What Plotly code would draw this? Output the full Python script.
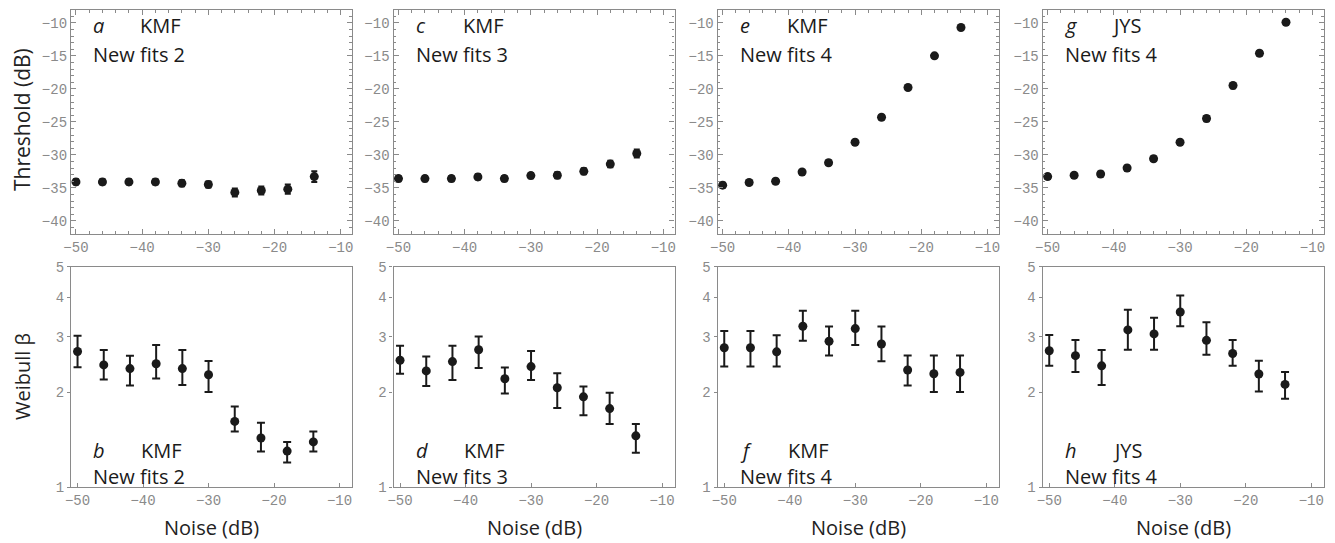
import plotly.graph_objects as go

W, H = 1335, 543
OFF = 8  # page body margin compensation

noise = [-50, -46, -42, -38, -34, -30, -26, -22, -18, -14]

# Threshold (dB) panels a, c, e, g
thr_a = [-34.1, -34.1, -34.1, -34.1, -34.3, -34.5, -35.7, -35.4, -35.2, -33.3]
thr_a_err = [0.4, 0.4, 0.4, 0.4, 0.45, 0.45, 0.6, 0.6, 0.7, 0.8]
thr_c = [-33.6, -33.6, -33.6, -33.35, -33.6, -33.15, -33.1, -32.5, -31.4, -29.8]
thr_c_err = [0.4, 0.4, 0.4, 0.4, 0.4, 0.4, 0.45, 0.45, 0.5, 0.6]
thr_e = [-34.6, -34.2, -34.0, -32.6, -31.2, -28.1, -24.3, -19.8, -15.0, -10.7]
thr_e_err = [0.35, 0.3, 0.3, 0.3, 0.35, 0.3, 0.3, 0.35, 0.3, 0.3]
thr_g = [-33.3, -33.1, -32.9, -32.0, -30.6, -28.1, -24.5, -19.5, -14.6, -9.9]
thr_g_err = [0.35, 0.3, 0.35, 0.35, 0.35, 0.3, 0.4, 0.4, 0.35, 0.35]

# Weibull beta panels b, d, f, h (value, upper, lower)
beta_b = [2.69, 2.44, 2.375, 2.46, 2.375, 2.27, 1.615, 1.43, 1.30, 1.39]
beta_b_hi = [3.02, 2.72, 2.61, 2.82, 2.72, 2.51, 1.80, 1.60, 1.39, 1.50]
beta_b_lo = [2.40, 2.195, 2.10, 2.21, 2.105, 2.00, 1.50, 1.295, 1.196, 1.295]

beta_d = [2.525, 2.335, 2.50, 2.725, 2.206, 2.41, 2.065, 1.932, 1.773, 1.453]
beta_d_hi = [2.807, 2.596, 2.807, 3.00, 2.393, 2.70, 2.295, 2.085, 1.99, 1.584]
beta_d_lo = [2.289, 2.09, 2.185, 2.387, 1.98, 2.185, 1.781, 1.688, 1.584, 1.285]

beta_f = [2.765, 2.765, 2.685, 3.237, 2.90, 3.182, 2.842, 2.35, 2.288, 2.31]
beta_f_hi = [3.127, 3.127, 3.03, 3.626, 3.229, 3.626, 3.229, 2.613, 2.613, 2.613]
beta_f_lo = [2.41, 2.41, 2.41, 2.912, 2.613, 2.82, 2.506, 2.099, 2.0, 2.0]

beta_h = [2.705, 2.61, 2.423, 3.15, 3.06, 3.59, 2.92, 2.653, 2.284, 2.116]
beta_h_hi = [3.037, 2.927, 2.72, 3.651, 3.443, 4.05, 3.334, 2.927, 2.513, 2.317]
beta_h_lo = [2.423, 2.317, 2.105, 2.725, 2.725, 3.236, 2.627, 2.423, 2.01, 1.905]

top_panels = [
    (thr_a, thr_a_err, "a", "KMF", "New fits 2"),
    (thr_c, thr_c_err, "c", "KMF", "New fits 3"),
    (thr_e, thr_e_err, "e", "KMF", "New fits 4"),
    (thr_g, thr_g_err, "g", "JYS", "New fits 4"),
]
bot_panels = [
    (beta_b, beta_b_hi, beta_b_lo, "b", "KMF", "New fits 2"),
    (beta_d, beta_d_hi, beta_d_lo, "d", "KMF", "New fits 3"),
    (beta_f, beta_f_hi, beta_f_lo, "f", "KMF", "New fits 4"),
    (beta_h, beta_h_hi, beta_h_lo, "h", "JYS", "New fits 4"),
]

x_ticks = [-50, -40, -30, -20, -10]
thr_ticks = [-40, -35, -30, -25, -20, -15, -10]
beta_ticks = [1, 2, 3, 4, 5]

# layout geometry (pixels, as seen in the page)
lefts = [71, 393.5, 717.7, 1042.7]
pw = 281
top_y = (10, 234)
bot_y = (266.7, 487)

FRAME = "#8a8a8a"
INK = "#1a1a1a"
TICKFONT = dict(family="Liberation Mono", size=14, color="#8a8a8a")
TXTFONT = "Open Sans"


def px(x):
    return (x - OFF) / W


def py(y):
    return 1 - (y - OFF) / H


fig = go.Figure()
layout = {}
annotations = []

for i, (vals, err, let, subj, fit) in enumerate(top_panels):
    n = 2 * i + 1
    xa = "x" if n == 1 else f"x{n}"
    ya = "y" if n == 1 else f"y{n}"
    fig.add_trace(go.Scatter(
        x=noise, y=vals, mode="markers", xaxis=xa, yaxis=ya,
        marker=dict(size=9, color=INK),
        error_y=dict(type="data", array=err, visible=True,
                     color=INK, thickness=2, width=3),
        showlegend=False, hoverinfo="x+y"))
    layout[f"xaxis{n}"] = dict(
        domain=[px(lefts[i]), px(lefts[i] + pw)], anchor=ya, automargin=False,
        range=[-50.75, -8.3], tickvals=x_ticks,
        showline=True, linecolor=FRAME, linewidth=1.3, mirror="ticks",
        ticks="inside", ticklen=5, tickcolor=FRAME, tickwidth=1,
        minor=dict(dtick=2, ticks="inside", ticklen=2.5, tickcolor=FRAME),
        tickfont=TICKFONT, showgrid=False, zeroline=False)
    layout[f"yaxis{n}"] = dict(
        domain=[py(top_y[1]), py(top_y[0])], anchor=xa, automargin=False,
        range=[-42, -8.05], tickvals=thr_ticks,
        showline=True, linecolor=FRAME, linewidth=1.3, mirror="ticks",
        ticks="inside", ticklen=5, tickcolor=FRAME, tickwidth=1,
        minor=dict(dtick=1, ticks="inside", ticklen=2.5, tickcolor=FRAME),
        tickfont=TICKFONT, showgrid=False, zeroline=False)
    x0 = lefts[i]
    annotations += [
        dict(text=f"<i>{let}</i>", x=px(x0 + 20), y=py(25), xref="paper", yref="paper",
             xanchor="left", yanchor="middle", showarrow=False,
             font=dict(family=TXTFONT, size=20, color=INK)),
        dict(text=subj, x=px(x0 + 67), y=py(25), xref="paper", yref="paper",
             xanchor="left", yanchor="middle", showarrow=False,
             font=dict(family=TXTFONT, size=20, color=INK)),
        dict(text=fit, x=px(x0 + 20), y=py(54), xref="paper", yref="paper",
             xanchor="left", yanchor="middle", showarrow=False,
             font=dict(family=TXTFONT, size=20, color=INK)),
    ]

for i, (vals, hi, lo, let, subj, fit) in enumerate(bot_panels):
    n = 2 * i + 2
    xa = f"x{n}"
    ya = f"y{n}"
    up = [h - v for h, v in zip(hi, vals)]
    dn = [v - l for v, l in zip(vals, lo)]
    fig.add_trace(go.Scatter(
        x=noise, y=vals, mode="markers", xaxis=xa, yaxis=ya,
        marker=dict(size=9, color=INK),
        error_y=dict(type="data", symmetric=False, array=up, arrayminus=dn,
                     visible=True, color=INK, thickness=2, width=4),
        showlegend=False, hoverinfo="x+y"))
    layout[f"xaxis{n}"] = dict(
        domain=[px(lefts[i]), px(lefts[i] + pw)], anchor=ya, automargin=False,
        range=[-51, -8.1], tickvals=x_ticks,
        showline=True, linecolor=FRAME, linewidth=1.3, mirror=True,
        ticks="inside", ticklen=4, tickcolor=FRAME, tickwidth=1,
        tickfont=TICKFONT, showgrid=False, zeroline=False)
    layout[f"yaxis{n}"] = dict(
        domain=[py(bot_y[1]), py(bot_y[0])], anchor=xa, automargin=False,
        type="log", range=[0, 0.69897], tickvals=beta_ticks,
        ticktext=[str(t) for t in beta_ticks],
        showline=True, linecolor=FRAME, linewidth=1.3, mirror=True,
        ticks="outside", ticklen=3, tickcolor=FRAME, tickwidth=1,
        tickfont=TICKFONT, showgrid=False, zeroline=False)
    x0 = lefts[i]
    annotations += [
        dict(text=f"<i>{let}</i>", x=px(x0 + 20), y=py(450), xref="paper", yref="paper",
             xanchor="left", yanchor="middle", showarrow=False,
             font=dict(family=TXTFONT, size=20, color=INK)),
        dict(text=subj, x=px(x0 + 68), y=py(450), xref="paper", yref="paper",
             xanchor="left", yanchor="middle", showarrow=False,
             font=dict(family=TXTFONT, size=20, color=INK)),
        dict(text=fit, x=px(x0 + 20), y=py(476), xref="paper", yref="paper",
             xanchor="left", yanchor="middle", showarrow=False,
             font=dict(family=TXTFONT, size=20, color=INK)),
        dict(text="Noise (dB)", x=px(x0 + pw / 2), y=py(527), xref="paper", yref="paper",
             xanchor="center", yanchor="middle", showarrow=False,
             font=dict(family=TXTFONT, size=20, color="#222222")),
    ]

annotations += [
    dict(text="Threshold (dB)", x=px(22), y=py(120), xref="paper", yref="paper",
         xanchor="center", yanchor="middle", textangle=-90, showarrow=False,
         font=dict(family=TXTFONT, size=21, color="#222222")),
    dict(text="Weibull β", x=px(22), y=py(377), xref="paper", yref="paper",
         xanchor="center", yanchor="middle", textangle=-90, showarrow=False,
         font=dict(family=TXTFONT, size=20, color="#222222")),
]

fig.update_layout(
    width=W, height=H,
    margin=dict(l=0, r=0, t=0, b=0, autoexpand=False),
    paper_bgcolor="white", plot_bgcolor="white",
    annotations=annotations,
    showlegend=False,
    **layout,
)

fig.write_html("out.html")
